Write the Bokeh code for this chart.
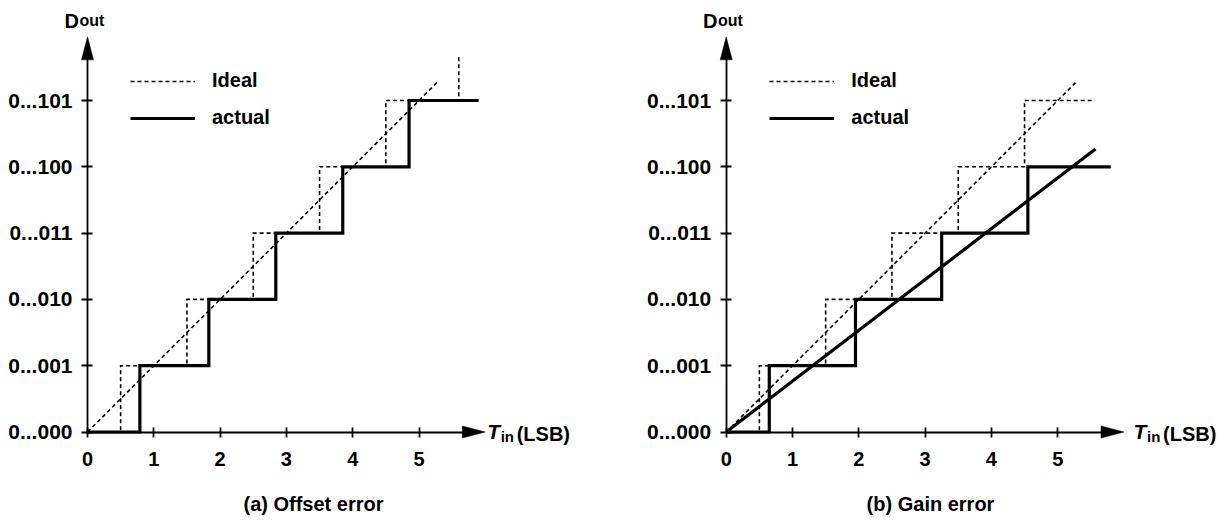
import numpy as np
from bokeh.plotting import figure
from bokeh.models import Range1d, LinearAxis, FixedTicker, Legend, LegendItem, Label
from bokeh.layouts import row
from bokeh.embed import file_html
from bokeh.resources import INLINE

# ---------------- data ----------------
code_levels = [0, 1, 2, 3, 4, 5]
code_labels = ["0...000", "0...001", "0...010", "0...011", "0...100", "0...101"]
tin_ticks = [0, 1, 2, 3, 4, 5]

# (a) offset error
a_ideal_transitions = [0.5, 1.5, 2.5, 3.5, 4.5, 5.6]
a_ideal_top = 5.66
a_actual_transitions = [0.79, 1.83, 2.84, 3.85, 4.85]
a_actual_end = 5.9
a_ideal_line_x = [0, 5.3]
a_ideal_line_y = [0, 5.3]

# (b) gain error
b_ideal_transitions = [0.5, 1.5, 2.5, 3.5, 4.5]
b_ideal_end = 5.55
b_actual_transitions = [0.65, 1.95, 3.25, 4.55]
b_actual_end = 5.8
b_ideal_line_x = [0, 5.3]
b_ideal_line_y = [0, 5.3]
b_gain_line_x = [0, 5.57]
b_gain_line_y = [0, 4.27]

# ---------------- layout ----------------
S = 66.3          # px per unit
H = 523
ORIGIN_PY = 431.5
AX_END_X = 6.0
AX_END_Y = 5.96
FONT = "Liberation Sans"


def step_path(trans, x_end=None, top=None):
    xs, ys = [0.0], [0.0]
    for i, t in enumerate(trans):
        xs += [t, t]
        ys += [i, i + 1]
    if top is not None:
        ys[-1] = top
    if x_end is not None:
        xs.append(x_end)
        ys.append(ys[-1])
    return xs, ys


def make_panel(width, origin_px, ideal_xy, actual_xy, ideal_line, extra_line,
               legend_x, caption, caption_x, tin_x, dout_x):
    x0 = -origin_px / S
    x1 = (width - origin_px) / S
    y0 = -(H - ORIGIN_PY) / S
    y1 = ORIGIN_PY / S
    p = figure(width=width, height=H, x_range=Range1d(x0, x1), y_range=Range1d(y0, y1),
               x_axis_type=None, y_axis_type=None, toolbar_location=None,
               output_backend="svg", min_border=0, title=None,
               outline_line_color=None, background_fill_color="white",
               border_fill_color="white")
    p.xgrid.visible = False
    p.ygrid.visible = False

    common = dict(axis_line_width=1.8, axis_line_color="black",
                  major_tick_line_width=1.8, major_tick_line_color="black",
                  minor_tick_line_color=None,
                  major_label_text_font=FONT, major_label_text_font_style="bold",
                  major_label_text_color="black")
    xax = LinearAxis(fixed_location=0, bounds=(0, AX_END_X - 0.2),
                     ticker=FixedTicker(ticks=tin_ticks), major_tick_in=5, major_tick_out=5,
                     major_label_text_font_size="20px", major_label_standoff=15, **common)
    p.add_layout(xax, "below")
    yax = LinearAxis(fixed_location=0, bounds=(0, AX_END_Y - 0.2),
                     ticker=FixedTicker(ticks=code_levels), major_tick_in=5, major_tick_out=6,
                     major_label_overrides={lv: lb for lv, lb in zip(code_levels, code_labels)},
                     major_label_text_font_size="21px", major_label_standoff=9, **common)
    p.add_layout(yax, "left")

    # arrow heads
    L = 23 / S
    W = 6 / S
    p.patch([AX_END_X, AX_END_X - L, AX_END_X - L], [0, W, -W], color="black", line_width=0.5)
    p.patch([0, W, -W], [AX_END_Y, AX_END_Y - L, AX_END_Y - L], color="black", line_width=0.5)

    # ideal
    r_ideal = p.line(ideal_xy[0], ideal_xy[1], line_color="black", line_width=1.6,
                     line_dash="4 3", line_join="miter")
    p.line(ideal_line[0], ideal_line[1], line_color="black", line_width=1.6, line_dash="4 3")
    # actual
    r_act = p.line(actual_xy[0], actual_xy[1], line_color="black", line_width=3.2,
                   line_join="miter")
    if extra_line is not None:
        p.line(extra_line[0], extra_line[1], line_color="black", line_width=3.2)

    legend = Legend(items=[LegendItem(label="Ideal", renderers=[r_ideal]),
                           LegendItem(label="actual", renderers=[r_act])],
                    location=(legend_x, 394), padding=0, margin=0, spacing=14,
                    glyph_width=65, glyph_height=22, label_height=22, label_standoff=17,
                    label_text_font=FONT, label_text_font_style="bold",
                    label_text_font_size="20px", label_text_color="black",
                    border_line_alpha=0, background_fill_alpha=0)
    p.add_layout(legend)

    # axis titles
    base = dict(x_units="screen", y_units="screen", text_font=FONT, text_color="black",
                text_baseline="alphabetic")
    p.add_layout(Label(x=dout_x, y=H - 20, text="D", text_font_size="20px",
                       text_font_style="bold", **base))
    p.add_layout(Label(x=dout_x + 15, y=H - 20, text="out", text_font_size="16px",
                       text_font_style="bold", **base))
    p.add_layout(Label(x=tin_x, y=H - 431, text="T", text_font_size="21px",
                       text_font_style="bold italic", **base))
    p.add_layout(Label(x=tin_x + 13.5, y=H - 436, text="in", text_font_size="15px",
                       text_font_style="bold", **base))
    p.add_layout(Label(x=tin_x + 29.5, y=H - 433, text="(LSB)", text_font_size="20px",
                       text_font_style="bold", **base))
    # caption
    p.add_layout(Label(x=caption_x, y=H - 503, text=caption, text_font_size="20px",
                       text_font_style="bold", text_align="center", x_units="screen",
                       y_units="screen", text_font=FONT, text_color="black",
                       text_baseline="middle"))
    return p


pa = make_panel(614, 87,
                step_path(a_ideal_transitions, top=a_ideal_top),
                step_path(a_actual_transitions, x_end=a_actual_end),
                (a_ideal_line_x, a_ideal_line_y), None,
                130, "(a) Offset error", 313, 486.7, 64)
pb = make_panel(615, 111.7,
                step_path(b_ideal_transitions, x_end=b_ideal_end),
                step_path(b_actual_transitions, x_end=b_actual_end),
                (b_ideal_line_x, b_ideal_line_y), (b_gain_line_x, b_gain_line_y),
                155.3, "(b) Gain error", 316, 519, 88.5)

layout = row(pa, pb, spacing=0)
open("out.html", "w").write(file_html(layout, INLINE))
